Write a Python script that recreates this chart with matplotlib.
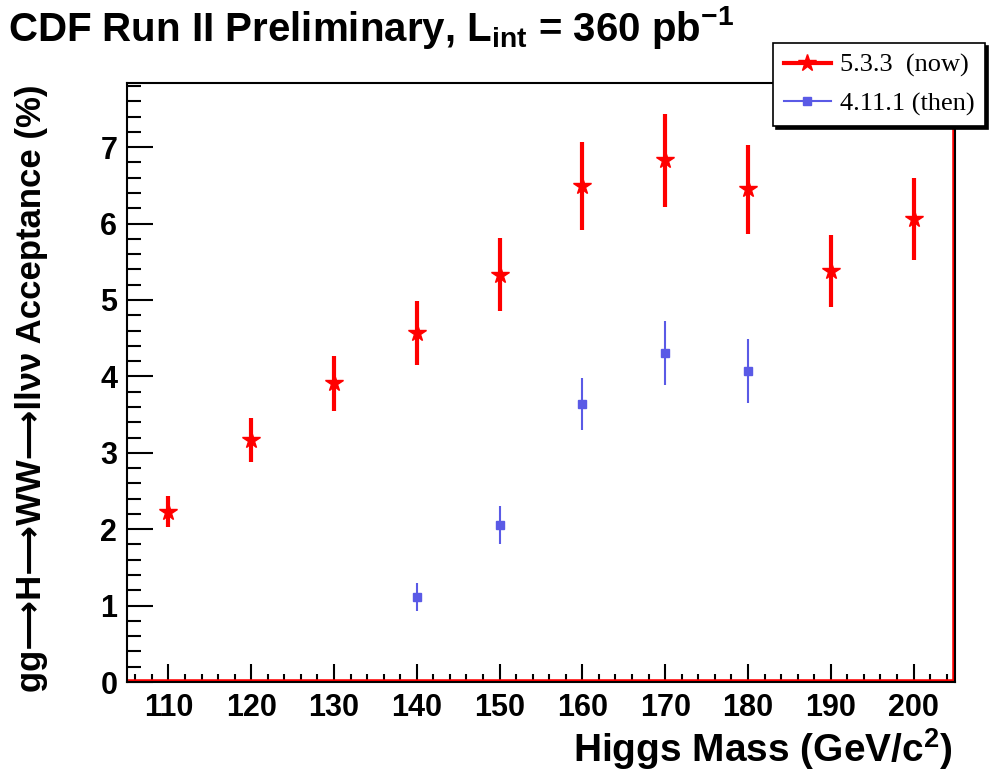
import matplotlib
matplotlib.use("Agg")
import matplotlib.pyplot as plt
from matplotlib.lines import Line2D
from matplotlib.ticker import MultipleLocator

# acceptance vs Higgs mass
mass_now = [110, 120, 130, 140, 150, 160, 170, 180, 190, 200]
acc_now = [2.23, 3.17, 3.91, 4.57, 5.33, 6.49, 6.83, 6.45, 5.38, 6.06]
err_now = [0.20, 0.29, 0.36, 0.42, 0.48, 0.58, 0.61, 0.58, 0.47, 0.54]

mass_then = [140, 150, 160, 170, 180]
acc_then = [1.11, 2.05, 3.64, 4.31, 4.07]
err_then = [0.18, 0.25, 0.34, 0.42, 0.42]

label_now = "5.3.3  (now)"
label_then = "4.11.1 (then)"

RED = "#ff0000"
BLUE = "#5a5ae6"

plt.rcParams["font.family"] = ["Liberation Sans", "DejaVu Sans"]
plt.rcParams["font.weight"] = "bold"
plt.rcParams["mathtext.fontset"] = "custom"
plt.rcParams["mathtext.rm"] = "Liberation Sans:bold"
plt.rcParams["mathtext.bf"] = "Liberation Sans:bold"
plt.rcParams["mathtext.it"] = "Liberation Sans:bold"

fig = plt.figure(figsize=(9.9, 7.75), dpi=100)
ax = fig.add_axes([0.1283, 0.12, 0.8363, 0.7729])

ax.errorbar(mass_now, acc_now, yerr=err_now, fmt="*", color=RED,
            markersize=13, elinewidth=3, capsize=0, zorder=4)
ax.errorbar(mass_then, acc_then, yerr=err_then, fmt="s", color=BLUE,
            markersize=6, elinewidth=1.5, capsize=0, zorder=3)

ax.set_xlim(105, 205)
ax.set_ylim(0, 7.84)
ax.xaxis.set_major_locator(MultipleLocator(10))
ax.xaxis.set_minor_locator(MultipleLocator(2))
ax.yaxis.set_major_locator(MultipleLocator(1))
ax.yaxis.set_minor_locator(MultipleLocator(0.2))
ax.set_xticks(range(110, 201, 10))
ax.tick_params(axis="both", which="both", direction="in", top=False,
               right=False, labelsize=22, width=1.5)
ax.tick_params(axis="x", which="both", pad=8)
ax.tick_params(axis="y", which="both", pad=7)
ax.tick_params(axis="x", which="major", length=13)
ax.tick_params(axis="x", which="minor", length=6)
ax.tick_params(axis="y", which="major", length=19)
ax.tick_params(axis="y", which="minor", length=10)
for lab in ax.get_xticklabels() + ax.get_yticklabels():
    lab.set_fontweight("bold")
for sp in ax.spines.values():
    sp.set_linewidth(1.5)
    sp.set_zorder(6)

# red histogram frame just inside bottom and right edges
ax.axhline(0, color=RED, lw=4, zorder=5)
ax.axvline(205, color=RED, lw=4, zorder=5)

fig.text(8 / 990, 1 - 41 / 775,
         r"CDF Run II Preliminary, L$_{int}$ = 360 pb$^{-1}$",
         fontsize=29, fontweight="bold", ha="left", va="baseline")
fig.text(953 / 990, 1 - 762 / 775, r"Higgs Mass (GeV/c$^{2}$)",
         fontsize=28, fontweight="bold", ha="right", va="baseline")
fig.text(32 / 990, 1 - 85 / 775,
         "gg\u27f6H\u27f6WW\u27f6ll\u03bd\u03bd Acceptance (%)",
         fontsize=25, fontweight="bold", rotation=90, ha="center", va="top")

handles = [
    Line2D([], [], color=RED, lw=3, marker="*", markersize=13),
    Line2D([], [], color=BLUE, lw=1.5, marker="s", markersize=6),
]
leg = fig.legend(handles, [label_now, label_then], loc="upper left",
                 bbox_to_anchor=(773 / 990, 1 - 43 / 775),
                 prop={"family": "Liberation Serif", "size": 19, "weight": "normal"},
                 frameon=True, fancybox=False, edgecolor="black",
                 shadow={"color": "black", "alpha": 1.0},
                 borderpad=0.4, labelspacing=0.55, handlelength=1.8,
                 handletextpad=0.35, borderaxespad=0)
leg.get_frame().set_linewidth(1.2)
leg.set_zorder(10)

fig.savefig("out.png", dpi=100)
